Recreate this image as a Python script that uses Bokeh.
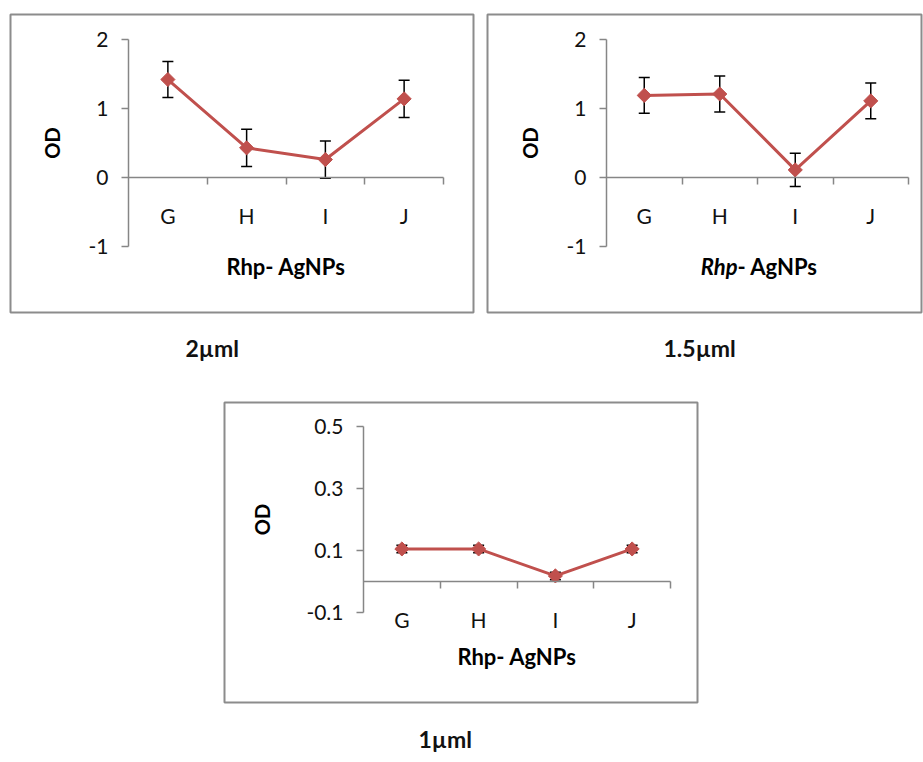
import numpy as np
from bokeh.plotting import figure
from bokeh.models import (LinearAxis, FixedTicker, ColumnDataSource, Whisker,
                          TeeHead, Label, Range1d, Title)
from bokeh.layouts import column, row
from bokeh.embed import file_html
from bokeh.resources import INLINE

# ---------------- data ----------------
categories = ["G", "H", "I", "J"]
od_2uml = [1.42, 0.43, 0.26, 1.14]
err_2uml = [0.26, 0.27, 0.27, 0.27]
od_15uml = [1.19, 1.21, 0.11, 1.11]
err_15uml = [0.26, 0.26, 0.24, 0.26]
od_1uml = [0.105, 0.105, 0.018, 0.105]
err_1uml = [0.012, 0.012, 0.012, 0.012]
ticks_big = [-1, 0, 1, 2]
ticks_small = [-0.1, 0.1, 0.3, 0.5]
x_title = "Rhp- AgNPs"
x_title_italic = "Rhp"
x_title_rest = "- AgNPs"
y_title = "OD"
captions = ["2µml", "1.5µml", "1µml"]

# ---------------- style ----------------
RED = "#C0504D"
AX = "#868686"
BOX = "#8c8c8c"
FONT = "Lato"
TICK_FS = "21px"
TITLE_FS = "22px"
CAP_FS = "23px"


def make_panel(values, errors, yticks, frame, axis_px, borders, caption, cap_left,
               cap_standoff, title_standoff, ylab_standoff, italic_title=False):
    L, T, R, B = frame
    ax_x, ax_end, ytop_px, ybot_px = axis_px
    bl, br, bt, bb = borders
    n = len(categories)
    xs = list(range(1, n + 1))
    cw = (ax_end - ax_x) / n
    x0 = 0.5 - (ax_x - L) / cw
    x1 = n + 0.5 + (R - ax_end) / cw
    ymin, ymax = min(yticks), max(yticks)
    ppu = (ybot_px - ytop_px) / (ymax - ymin)
    y1 = ymax + (ytop_px - T) / ppu
    y0 = ymin - (B - ybot_px) / ppu

    p = figure(frame_width=R - L, frame_height=B - T,
               x_range=Range1d(x0, x1), y_range=Range1d(y0, y1),
               x_axis_type=None, y_axis_type=None,
               output_backend="svg", toolbar_location=None,
               min_border_left=bl, min_border_right=br,
               min_border_top=bt, min_border_bottom=bb,
               background_fill_color="white", border_fill_color="white")
    p.outline_line_color = BOX
    p.outline_line_width = 2

    # y axis
    yaxis = LinearAxis(fixed_location=0.5, bounds=(ymin, ymax),
                       ticker=FixedTicker(ticks=yticks),
                       major_label_overrides={t: str(t) for t in yticks},
                       axis_line_color=AX, axis_line_width=1.5,
                       major_tick_line_color=AX, major_tick_line_width=1.5,
                       major_tick_out=7, major_tick_in=0,
                       minor_tick_line_color=None, minor_tick_out=0,
                       major_label_text_font=FONT,
                       major_label_text_font_size=TICK_FS,
                       major_label_text_color="#111111",
                       major_label_standoff=13,
                       axis_label=y_title,
                       axis_label_text_font=FONT,
                       axis_label_text_font_style="bold",
                       axis_label_text_font_size="20px",
                       axis_label_text_color="black",
                       axis_label_standoff=ylab_standoff)
    p.add_layout(yaxis, "left")

    # x axis line at y = 0 with ticks between categories
    xline = LinearAxis(fixed_location=0, bounds=(0.5, n + 0.5),
                       ticker=FixedTicker(ticks=[x + 0.5 for x in xs]),
                       axis_line_color=AX, axis_line_width=1.5,
                       major_tick_line_color=AX, major_tick_line_width=1.5,
                       major_tick_out=7, major_tick_in=0,
                       minor_tick_line_color=None, minor_tick_out=0,
                       major_label_text_alpha=0,
                       major_label_text_font_size="1px")
    p.add_layout(xline, "below")

    # category labels
    xlab = LinearAxis(fixed_location=0, bounds=(0.5, n + 0.5),
                      ticker=FixedTicker(ticks=xs),
                      major_label_overrides={x: c for x, c in zip(xs, categories)},
                      axis_line_color=None, major_tick_line_color=None,
                      major_tick_out=0, major_tick_in=0,
                      minor_tick_line_color=None, minor_tick_out=0,
                      major_label_text_font=FONT,
                      major_label_text_font_size=TICK_FS,
                      major_label_text_color="#111111",
                      major_label_standoff=25,
                      axis_label=None if italic_title else x_title,
                      axis_label_text_font=FONT,
                      axis_label_text_font_style="bold",
                      axis_label_text_font_size=TITLE_FS,
                      axis_label_text_color="black",
                      axis_label_standoff=title_standoff)
    p.add_layout(xlab, "below")

    if italic_title:
        mid = (n + 1) / 2
        p.add_layout(Label(x=mid, y=0, x_offset=-20, y_offset=-89,
                           text=x_title_italic, text_align="right",
                           text_baseline="middle", text_font=FONT,
                           text_font_style="bold italic",
                           text_font_size=TITLE_FS, text_color="black"))
        p.add_layout(Label(x=mid, y=0, x_offset=-20, y_offset=-89,
                           text=x_title_rest, text_align="left",
                           text_baseline="middle", text_font=FONT,
                           text_font_style="bold",
                           text_font_size=TITLE_FS, text_color="black"))

    src = ColumnDataSource(dict(
        x=xs, y=values,
        upper=[v + e for v, e in zip(values, errors)],
        lower=[v - e for v, e in zip(values, errors)]))
    p.line("x", "y", source=src, line_color=RED, line_width=3)
    p.scatter("x", "y", source=src, marker="square", angle=np.pi / 4, size=10,
              fill_color=RED, line_color=RED)
    p.add_layout(Whisker(source=src, base="x", upper="upper", lower="lower",
                         line_color="black", line_width=1.5,
                         upper_head=TeeHead(size=11, line_color="black", line_width=1.5),
                         lower_head=TeeHead(size=11, line_color="black", line_width=1.5)))

    # caption under the box
    p.add_layout(Title(text=caption, align="left", offset=cap_left - L,
                       text_font=FONT, text_font_style="bold",
                       text_font_size=CAP_FS, text_color="#111111",
                       standoff=cap_standoff), "below")
    return p


p1 = make_panel(od_2uml, err_2uml, ticks_big,
                frame=(10, 14, 473, 312), axis_px=(128, 443, 39, 246),
                borders=(10, 11, 14, 80), caption=captions[0], cap_left=185,
                cap_standoff=38, title_standoff=22, ylab_standoff=22)
p2 = make_panel(od_15uml, err_15uml, ticks_big,
                frame=(487, 12, 921, 310), axis_px=(606, 908, 37, 244),
                borders=(3, 2, 12, 82), caption=captions[1], cap_left=663,
                cap_standoff=38, title_standoff=22, ylab_standoff=22,
                italic_title=True)
p3 = make_panel(od_1uml, err_1uml, ticks_small,
                frame=(224, 402, 697, 702), axis_px=(363, 670, 426, 612),
                borders=(224, 226, 10, 60), caption=captions[2], cap_left=418,
                cap_standoff=40, title_standoff=8, ylab_standoff=29)

layout = column(row(p1, p2), p3)
open("out.html", "w").write(file_html(layout, INLINE))
